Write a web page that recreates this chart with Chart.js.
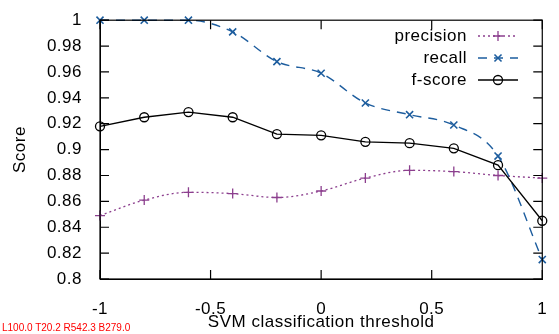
<!DOCTYPE html>
<html lang="en">
<head>
  <meta charset="UTF-8">
  <title>SVM threshold</title>
  <style>
    html, body { margin: 0; padding: 0; background: #fff; overflow: hidden; }
    canvas { display: block; }
    #info { position: absolute; left: 2px; top: 322px; font: 10px sans-serif; color: red; }
  </style>
</head>
<body>
  <canvas id="myChart" width="559" height="334"></canvas>
  <div id="info"></div>

<script src="https://cdn.jsdelivr.net/npm/chart.js"></script>
<script>
  // valores
  const limiares = [-1, -0.8, -0.6, -0.4, -0.2, 0, 0.2, 0.4, 0.6, 0.8, 1];
  const precision = [0.849, 0.861, 0.867, 0.866, 0.863, 0.868, 0.878, 0.884, 0.883, 0.880, 0.878];
  const recall = [1, 1, 1, 0.991, 0.968, 0.959, 0.936, 0.927, 0.919, 0.895, 0.815];
  const fscore = [0.918, 0.925, 0.929, 0.925, 0.912, 0.911, 0.906, 0.905, 0.901, 0.888, 0.845];
  const xTicks = [-1, -0.5, 0, 0.5, 1];
  const yTicks = [0.8, 0.82, 0.84, 0.86, 0.88, 0.9, 0.92, 0.94, 0.96, 0.98, 1];

  const fonte = 'Liberation Sans, Arial, Helvetica, sans-serif';

  function pontos(valores) {
    return valores.map(function (v, i) { return { x: limiares[i], y: v }; });
  }

  function formatar(v) {
    return String(+v.toFixed(2));
  }

  // moldura e ticks para dentro (estilo gnuplot)
  function desenharMoldura(chart) {
    const ctx = chart.ctx;
    const a = chart.chartArea;
    const sx = chart.scales.x, sy = chart.scales.y;
    document.getElementById('info').textContent =
      'L' + a.left.toFixed(1) + ' T' + a.top.toFixed(1) + ' R' + a.right.toFixed(1) + ' B' + a.bottom.toFixed(1);
    ctx.save();
    ctx.strokeStyle = 'black';
    ctx.lineWidth = 1.2;
    ctx.strokeRect(a.left, a.top, a.right - a.left, a.bottom - a.top);
    ctx.beginPath();
    xTicks.forEach(function (v) {
      const px = sx.getPixelForValue(v);
      ctx.moveTo(px, a.bottom); ctx.lineTo(px, a.bottom - 9);
      ctx.moveTo(px, a.top); ctx.lineTo(px, a.top + 9);
    });
    yTicks.forEach(function (v) {
      const py = sy.getPixelForValue(v);
      ctx.moveTo(a.left, py); ctx.lineTo(a.left + 9, py);
      ctx.moveTo(a.right, py); ctx.lineTo(a.right - 9, py);
    });
    ctx.stroke();
    ctx.restore();
  }

  // legenda com a amostra de linha a direita do texto
  function desenharLegenda(chart) {
    const ctx = chart.ctx;
    ctx.save();
    ctx.font = '17px ' + fonte;
    ctx.textAlign = 'right';
    ctx.textBaseline = 'middle';
    chart.data.datasets.forEach(function (ds, i) {
      const y = 36 + i * 22;
      ctx.fillStyle = '#000';
      ctx.fillText(ds.label, 467, y);
      ctx.strokeStyle = ds.borderColor;
      ctx.lineWidth = ds.borderWidth;
      ctx.setLineDash(ds.borderDash || []);
      ctx.beginPath();
      ctx.moveTo(478, y); ctx.lineTo(518, y);
      ctx.stroke();
      ctx.setLineDash([]);
      ctx.lineWidth = ds.pointBorderWidth;
      ctx.fillStyle = ds.pointBackgroundColor;
      ctx.strokeStyle = ds.pointBorderColor;
      Chart.helpers.drawPoint(ctx, { pointStyle: ds.pointStyle, radius: ds.pointRadius, rotation: 0, borderWidth: ds.pointBorderWidth }, 498, y);
    });
    ctx.restore();
  }

  const extras = {
    id: 'extras',
    beforeDraw(chart) {
      chart.ctx.letterSpacing = '0.5px';
    },
    afterDraw(chart) {
      desenharLegenda(chart);
      desenharMoldura(chart);
    }
  };

  const borda = { display: true, color: '#000', width: 1 };

  const config = {
    type: 'line',
    data: {
      datasets: [{
        label: 'precision',
        data: pontos(precision),
        order: 3,
        borderColor: '#8c3f8e',
        borderWidth: 1.3,
        borderDash: [2, 3],
        cubicInterpolationMode: 'monotone',
        pointStyle: 'cross',
        pointRadius: 5,
        pointBorderWidth: 1.3,
        pointBorderColor: '#8c3f8e',
        pointBackgroundColor: '#8c3f8e',
        fill: false
      }, {
        label: 'recall',
        data: pontos(recall),
        order: 2,
        borderColor: '#1d5d9e',
        borderWidth: 1.4,
        borderDash: [9, 7],
        cubicInterpolationMode: 'monotone',
        pointStyle: 'crossRot',
        pointRadius: 5,
        pointBorderWidth: 1.6,
        pointBorderColor: '#1d5d9e',
        pointBackgroundColor: '#1d5d9e',
        fill: false
      }, {
        label: 'f-score',
        data: pontos(fscore),
        order: 1,
        borderColor: '#000',
        borderWidth: 1.3,
        pointStyle: 'circle',
        pointRadius: 4.5,
        pointBorderWidth: 1.3,
        pointBorderColor: '#000',
        pointBackgroundColor: 'rgba(255,255,255,0)',
        fill: false
      }]
    },
    options: {
      responsive: false,
      animation: false,
      clip: false,
      layout: { padding: { top: 14, right: 7, left: 0, bottom: 0 } },
      plugins: {
        legend: { display: false },
        tooltip: { enabled: false }
      },
      scales: {
        x: {
          type: 'linear',
          min: -1,
          max: 1,
          afterFit: function (s) { s.height = 55; },
          afterBuildTicks: function (s) { s.ticks = xTicks.map(function (v) { return { value: v }; }); },
          grid: { display: false },
          border: borda,
          ticks: {
            color: '#000',
            font: { family: fonte, size: 17 },
            padding: 12,
            maxRotation: 0,
            autoSkip: false,
            callback: formatar
          },
          title: {
            display: true,
            text: 'SVM classification threshold',
            color: '#000',
            font: { family: fonte, size: 17 },
            padding: { top: 0, bottom: 1 }
          }
        },
        y: {
          min: 0.8,
          max: 1,
          afterFit: function (s) { s.width = 100; },
          afterBuildTicks: function (s) { s.ticks = yTicks.map(function (v) { return { value: v }; }); },
          grid: { display: false },
          border: borda,
          ticks: {
            color: '#000',
            font: { family: fonte, size: 17 },
            padding: 10,
            autoSkip: false,
            callback: formatar
          },
          title: {
            display: true,
            text: 'Score',
            color: '#000',
            font: { family: fonte, size: 17 },
            padding: { top: 10, bottom: 0 }
          }
        }
      }
    },
    plugins: [extras]
  };

  const myChart = new Chart(document.getElementById('myChart'), config);
</script>
</body>
</html>
